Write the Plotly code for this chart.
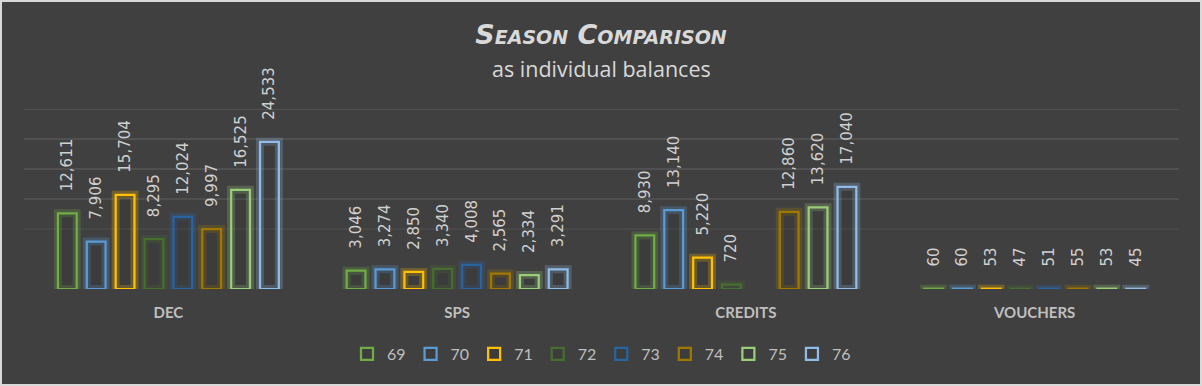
import plotly.graph_objects as go

categories = ["DEC", "SPS", "CREDITS", "VOUCHERS"]
series_names = ["69", "70", "71", "72", "73", "74", "75", "76"]
s69 = [12611, 3046, 8930, 60]
s70 = [7906, 3274, 13140, 60]
s71 = [15704, 2850, 5220, 53]
s72 = [8295, 3340, 720, 47]
s73 = [12024, 4008, None, 51]
s74 = [9997, 2565, 12860, 55]
s75 = [16525, 2334, 13620, 53]
s76 = [24533, 3291, 17040, 45]
series_values = [s69, s70, s71, s72, s73, s74, s75, s76]
colors = ["#70AD47", "#5B9BD5", "#FFC000", "#476E2E", "#2A64A0", "#A07800", "#9ACD7A", "#8FBDE8"]
grid_vals = [10000, 15000, 20000, 25000, 30000]
grid_cols = ["#4b4b4b", "#545454", "#565656", "#575757", "#575757"]

W, H = 1202, 386
ML, MR, MT, MB = 24, 23, 109, 97
PW, PH = W - ML - MR, H - MT - MB


def rgba(hexc, a):
    h = hexc.lstrip("#")
    r, g, b = int(h[0:2], 16), int(h[2:4], 16), int(h[4:6], 16)
    return f"rgba({r},{g},{b},{a})"


fig = go.Figure()
for i, (name, vals, col) in enumerate(zip(series_names, series_values, colors)):
    # glow
    fig.add_trace(go.Bar(
        x=categories, y=vals, name=name, offsetgroup=str(i), showlegend=False,
        marker=dict(color="rgba(0,0,0,0)", line=dict(color=rgba(col, 0.25), width=8)),
        hoverinfo="skip",
    ))
    fig.add_trace(go.Bar(
        x=categories, y=vals, name=name, offsetgroup=str(i),
        marker=dict(color="rgba(0,0,0,0.06)", line=dict(color=col, width=2.25)),
        texttemplate="\u00a0\u00a0\u00a0\u00a0%{y:,}", textposition="outside", textangle=-90,
        textfont=dict(family="DejaVu Sans", size=15, color="#D0D0D0"),
        cliponaxis=False, constraintext="none",
    ))

shapes = []
for gv, gc in zip(grid_vals, grid_cols):
    shapes.append(dict(type="line", xref="paper", x0=0, x1=1, yref="y", y0=gv, y1=gv,
                       line=dict(color=gc, width=1.5), layer="below"))
shapes.append(dict(type="rect", xref="paper", yref="paper",
                   x0=(1 - ML) / PW, x1=(W - 1 - ML) / PW,
                   y0=-(MB - 1) / PH, y1=(H - 1 - MB) / PH,
                   line=dict(color="#D9D9D9", width=2)))

fig.update_layout(
    width=W, height=H,
    margin=dict(l=ML, r=MR, t=MT, b=MB),
    paper_bgcolor="#404040", plot_bgcolor="#404040",
    barmode="group", bargap=0.2, bargroupgap=0.35,
    title=dict(text="Season Comparison", x=0.5, xanchor="center", y=1 - 35 / H, yanchor="middle",
               font=dict(family="DejaVu Sans", size=27, style="italic", weight=700, variant="small-caps",
                         color="#D9D9D9")),
    annotations=[dict(text="as individual balances", xref="paper", yref="paper", x=0.5,
                      y=(H - MB - 69) / PH, xanchor="center", yanchor="middle", showarrow=False,
                      font=dict(family="Open Sans", size=21.5, color="#D9D9D9"))],
    xaxis=dict(showgrid=False, zeroline=False, showline=False, ticks="outside", ticklen=10,
               tickcolor="rgba(0,0,0,0)",
               tickfont=dict(family="Lato", size=15, weight=700, color="#BFBFBF")),
    yaxis=dict(range=[0, 30000], showgrid=False, zeroline=False, showticklabels=False, showline=False),
    legend=dict(orientation="h", x=0.5, xanchor="center", y=(H - MB - 354) / PH, yanchor="middle",
                font=dict(family="Lato", size=16, color="#BFBFBF"), itemwidth=30,
                bgcolor="rgba(0,0,0,0)", borderwidth=0),
    shapes=shapes,
    showlegend=True,
)

fig.write_html("out.html", config={"displayModeBar": False},
               post_script="document.body.style.margin='0px';")
